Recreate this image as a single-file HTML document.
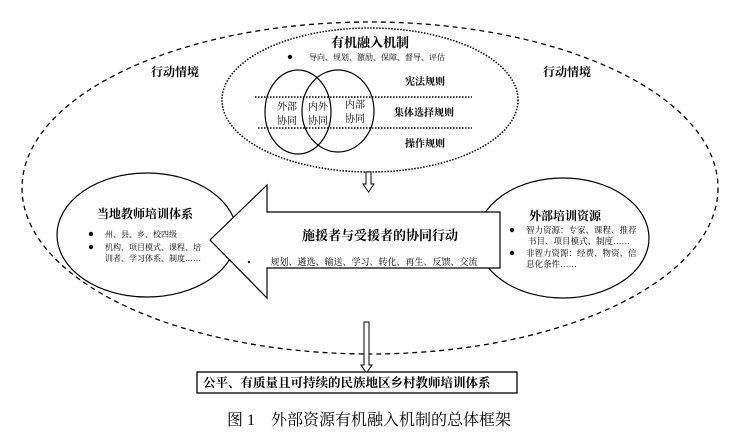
<!DOCTYPE html>
<html><head><meta charset="utf-8"><style>
html,body{margin:0;padding:0;background:#fff;}
svg{display:block;}
text{font-family:"Liberation Serif","Noto Serif CJK SC","Noto Sans CJK SC",serif;fill:#000;}
.b{font-weight:bold;}
</style></head><body>
<svg width="737" height="439" viewBox="0 0 737 439" xmlns="http://www.w3.org/2000/svg">
<ellipse cx="370" cy="188" rx="348" ry="166" fill="none" stroke="#000" stroke-width="1.3" stroke-dasharray="5,4"/>
<ellipse cx="370" cy="100" rx="148" ry="72" fill="#fff" stroke="#000" stroke-width="1.5" stroke-dasharray="1.5,1.5"/>
<text x="175" y="76" font-size="12" class="b" text-anchor="middle">行动情境</text>
<text x="567" y="76" font-size="12" class="b" text-anchor="middle">行动情境</text>
<text x="370" y="47" font-size="13" class="b" text-anchor="middle">有机融入机制</text>
<circle cx="290" cy="57" r="2.2"/>
<text x="377" y="60" font-size="8" text-anchor="middle">导向、规划、激励、保障、督导、评估</text>
<ellipse cx="298" cy="112" rx="33" ry="42" fill="none" stroke="#000" stroke-width="1.2"/>
<ellipse cx="338" cy="111" rx="36" ry="41" fill="none" stroke="#000" stroke-width="1.2"/>
<line x1="255" y1="97" x2="472" y2="97" stroke="#000" stroke-width="1.5" stroke-dasharray="1.5,1.5"/>
<line x1="258" y1="128" x2="472" y2="128" stroke="#000" stroke-width="1.5" stroke-dasharray="1.5,1.5"/>
<text x="425" y="85" font-size="10" class="b" text-anchor="middle">宪法规则</text>
<text x="424" y="116" font-size="10" class="b" text-anchor="middle">集体选择规则</text>
<text x="425" y="147" font-size="10" class="b" text-anchor="middle">操作规则</text>
<text x="287" y="110" font-size="10" text-anchor="middle">外部</text>
<text x="287" y="124" font-size="10" text-anchor="middle">协同</text>
<text x="318" y="110" font-size="10" text-anchor="middle">内外</text>
<text x="318" y="124" font-size="10" text-anchor="middle">协同</text>
<text x="355" y="108" font-size="10" text-anchor="middle">内部</text>
<text x="355" y="122" font-size="10" text-anchor="middle">协同</text>
<path d="M366 172 L371 172 L371 184 L374 184 L368.5 192 L363 184 L366 184 Z" fill="#fff" stroke="#000" stroke-width="1"/>
<ellipse cx="147" cy="235" rx="90" ry="62" fill="#fff" stroke="#000" stroke-width="1.2"/>
<text x="145" y="218" font-size="12" class="b" text-anchor="middle">当地教师培训体系</text>
<circle cx="91" cy="234" r="2.2"/><text x="105" y="237" font-size="8">州、县、乡、校四级</text>
<circle cx="91" cy="247" r="2.2"/><text x="105" y="250" font-size="8">机构、项目模式、课程、培</text>
<text x="105" y="261" font-size="8">训者、学习体系、制度……</text>
<ellipse cx="563" cy="238" rx="86" ry="60" fill="#fff" stroke="#000" stroke-width="1.2"/>
<path d="M210 240 L267 185 L267 212 L500 212 L500 268 L267 268 L267 298 Z" fill="#fff" stroke="#000" stroke-width="1.2"/>
<text x="380" y="240" font-size="13" class="b" font-family="Liberation Sans,Noto Sans CJK SC,sans-serif" text-anchor="middle">施援者与受援者的协同行动</text>
<circle cx="249" cy="262" r="1.2"/>
<text x="374" y="265" font-size="9" text-anchor="middle">规划、遴选、输送、学习、转化、再生、反馈、交流</text>
<text x="565" y="220" font-size="12" class="b" text-anchor="middle">外部培训资源</text>
<circle cx="512" cy="230" r="2.2"/><text x="526" y="233" font-size="8.5">智力资源：专家、课程、推荐</text>
<text x="528" y="244" font-size="8.5">书目、项目模式、制度……</text>
<circle cx="512" cy="253" r="2.2"/><text x="526" y="256" font-size="8.5">非智力资源：经费、物资、信</text>
<text x="526" y="267" font-size="8.5">息化条件……</text>
<path d="M364 322 L369 322 L369 365 L372 365 L366.5 373 L361 365 L364 365 Z" fill="#fff" stroke="#000" stroke-width="1"/>
<rect x="197" y="372" width="320" height="21" fill="#fff" stroke="#000" stroke-width="1.3"/>
<text x="203" y="387" font-size="12.5" class="b">公平、有质量且可持续的民族地区乡村教师培训体系</text>
<text x="369" y="425" font-size="16" text-anchor="middle" font-family="Liberation Sans,Noto Sans CJK SC,sans-serif">图 1　外部资源有机融入机制的总体框架</text>
</svg>
</body></html>
